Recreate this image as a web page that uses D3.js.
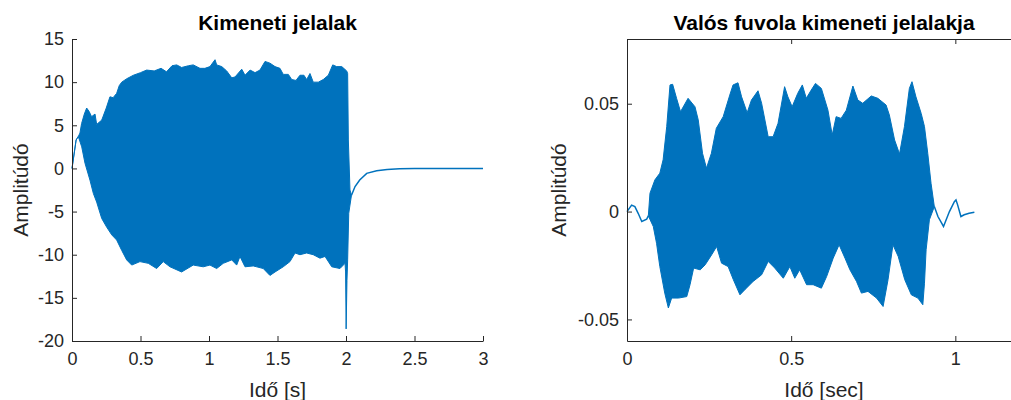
<!DOCTYPE html>
<html>
<head>
<meta charset="utf-8">
<script src="https://cdn.jsdelivr.net/npm/d3@7"></script>
<style>
  body { margin: 0; background: #fff; }
  text { font-family: "Liberation Sans", Arial, sans-serif; }
</style>
</head>
<body>
<div id="chart"></div>
<script>
const W = 1011, H = 400;
const blue = "#0072BD", axisCol = "#262626";

// left panel: simulated output, envelope of the dense signal
const leftUpT = [0,0.03,0.046,0.058,0.07,0.09,0.107,0.125,0.143,0.168,0.18,0.217,0.25,0.277,0.3,0.326,0.345,0.363,0.4,0.448,0.5,0.545,0.6,0.65,0.69,0.73,0.764,0.8,0.85,0.885,0.934,0.97,1.007,1.044,1.056,1.093,1.129,1.166,1.19,1.239,1.263,1.3,1.336,1.372,1.409,1.445,1.482,1.518,1.542,1.579,1.604,1.635,1.664,1.693,1.713,1.737,1.761,1.798,1.834,1.871,1.903,1.932,1.969,2.005,2.012,2.017,2.029,2.04];
const leftUpV = [0,3.3,3.7,4.1,5.2,6.3,7.0,6.6,6.0,6.3,5.1,5.6,7.0,8.3,8.2,8.7,9.6,10.0,10.4,10.8,11.1,11.4,11.3,11.6,11.2,11.9,12.0,11.7,11.9,12.0,11.6,11.6,11.8,12.6,12.0,11.8,11.3,10.5,10.6,11.5,10.8,11.4,11.1,11.4,12.4,12.2,11.8,11.6,10.9,10.9,10.3,10.2,10.8,10.8,10.3,11.0,10.0,10.0,10.3,10.8,12.0,11.8,11.8,11.3,11.0,3.3,-2.5,-3.1];
const leftLoT = [0,0.03,0.046,0.071,0.095,0.131,0.156,0.18,0.217,0.253,0.29,0.326,0.363,0.399,0.436,0.496,0.557,0.618,0.666,0.715,0.8,0.885,0.958,1.007,1.056,1.104,1.166,1.202,1.226,1.263,1.323,1.396,1.445,1.482,1.542,1.591,1.628,1.664,1.713,1.761,1.81,1.847,1.896,1.956,1.993,1.997,2.001,2.007,2.012,2.02,2.04];
const leftLoV = [0,3.3,3.7,2.5,0.6,-1.35,-2.9,-3.9,-5.8,-6.8,-7.7,-8.3,-9.5,-10.6,-11.2,-10.8,-11.0,-11.6,-10.8,-11.4,-12.0,-11.2,-11.4,-11.2,-11.6,-11.0,-10.6,-11.2,-10.2,-11.4,-11.3,-11.6,-12.4,-12.0,-11.4,-10.8,-9.8,-10.0,-9.8,-10.0,-10.4,-10.2,-11.4,-11.6,-11.0,-12.0,-18.6,-13.0,-10.6,-5.2,-3.1];
const leftTailT = [2.04,2.066,2.1,2.151,2.224,2.3,2.39,2.5,3.0];
const leftTailV = [-3.1,-2.1,-1.34,-0.57,-0.27,-0.12,-0.04,-0.01,0];

// right panel: real flute recording
const rightHeadT = [0,0.014,0.024,0.034,0.045,0.06,0.065];
const rightHeadV = [0,0.003,0.0023,-0.0008,-0.0046,-0.0035,-0.002];
const rightUpT = [0.065,0.07,0.085,0.1,0.11,0.121,0.131,0.139,0.151,0.163,0.186,0.207,0.217,0.23,0.242,0.257,0.272,0.293,0.313,0.323,0.338,0.349,0.366,0.379,0.399,0.41,0.43,0.445,0.46,0.48,0.49,0.503,0.52,0.534,0.546,0.561,0.574,0.592,0.612,0.625,0.637,0.652,0.668,0.688,0.703,0.718,0.744,0.764,0.789,0.799,0.815,0.83,0.845,0.86,0.868,0.88,0.896,0.906,0.916,0.926,0.936];
const rightUpV = [-0.002,0.0085,0.0147,0.0178,0.024,0.0394,0.0587,0.059,0.0525,0.0463,0.0525,0.0486,0.0425,0.027,0.0201,0.027,0.0386,0.044,0.054,0.0587,0.0597,0.0532,0.0458,0.0517,0.056,0.0502,0.0347,0.0347,0.0409,0.0579,0.0532,0.0486,0.0548,0.0587,0.0525,0.0563,0.0594,0.0571,0.047,0.0355,0.044,0.0432,0.047,0.0582,0.0517,0.0502,0.0536,0.0525,0.0494,0.0448,0.0332,0.0267,0.0394,0.0571,0.0602,0.0532,0.0455,0.0394,0.027,0.0131,0.0023];
const rightLoT = [0.065,0.08,0.09,0.1,0.115,0.126,0.136,0.157,0.182,0.192,0.203,0.223,0.238,0.258,0.273,0.288,0.308,0.324,0.344,0.359,0.384,0.41,0.43,0.45,0.476,0.496,0.511,0.526,0.547,0.567,0.592,0.608,0.628,0.646,0.664,0.679,0.699,0.714,0.734,0.76,0.78,0.795,0.81,0.826,0.846,0.866,0.886,0.901,0.906,0.911,0.921,0.936];
const rightLoV = [-0.002,-0.0069,-0.0147,-0.0255,-0.0378,-0.0447,-0.0401,-0.0401,-0.0394,-0.0339,-0.0262,-0.027,-0.0247,-0.02,-0.0162,-0.0239,-0.0255,-0.0316,-0.0386,-0.0362,-0.0324,-0.0293,-0.0231,-0.0262,-0.0309,-0.0255,-0.0309,-0.027,-0.0339,-0.0339,-0.0355,-0.0301,-0.0216,-0.0154,-0.0216,-0.027,-0.0324,-0.0378,-0.037,-0.0401,-0.044,-0.0316,-0.0154,-0.0208,-0.0316,-0.0386,-0.0401,-0.0432,-0.0332,-0.0177,-0.0038,0.0023];
const rightTailT = [0.936,0.947,0.964,0.982,0.997,1.002,1.007,1.017,1.027,1.042,1.058];
const rightTailV = [0.0023,-0.0023,-0.0069,0,0.0046,0.0054,0.0031,-0.0023,-0.0015,-0.0008,-0.0003];

const leftXTicks = [0,0.5,1,1.5,2,2.5,3];
const leftYTicks = [-20,-15,-10,-5,0,5,10,15];
const rightXTicks = [0,0.5,1];
const rightYTicks = [-0.05,0,0.05];

const zip = (t, v) => t.map((d, i) => [d, v[i]]);
// matlab style labels, plain hyphen for negatives
const fmt = d => d3.format("~g")(d).replace("−", "-");

const svg = d3.select("#chart").append("svg")
  .attr("width", W).attr("height", H)
  .style("display", "block");

function panel(o) {
  const x = d3.scaleLinear().domain(o.xDom).range([o.x0, o.x1]);
  const y = d3.scaleLinear().domain(o.yDom).range([o.y1, o.y0]);
  const g = svg.append("g");

  const line = d3.line().x(d => x(d[0])).y(d => y(d[1]));
  const poly = zip(o.upT, o.upV).concat(zip(o.loT, o.loV).reverse());
  g.append("path")
    .attr("d", line(poly) + "Z")
    .attr("fill", blue).attr("stroke", blue).attr("stroke-width", 1)
    .attr("stroke-linejoin", "round");
  o.lines.forEach(l => {
    g.append("path")
      .attr("d", line(zip(l[0], l[1])))
      .attr("fill", "none").attr("stroke", blue).attr("stroke-width", 1.5);
  });

  g.append("g").attr("transform", `translate(0,${o.y1})`)
    .call(d3.axisBottom(x).tickValues(o.xTicks).tickSizeInner(-5).tickSizeOuter(0)
      .tickPadding(11).tickFormat(fmt));
  g.append("g").attr("transform", `translate(${o.x0},0)`)
    .call(d3.axisLeft(y).tickValues(o.yTicks).tickSizeInner(-5).tickSizeOuter(0)
      .tickPadding(8).tickFormat(fmt));
  if (o.box) {
    g.append("g").attr("transform", `translate(0,${o.y0})`)
      .call(d3.axisTop(x).tickValues(o.xTicks).tickSizeInner(-5).tickSizeOuter(0).tickFormat(""));
    g.append("g").attr("transform", `translate(${o.x1},0)`)
      .call(d3.axisRight(y).tickValues(o.yTicks).tickSizeInner(-5).tickSizeOuter(0).tickFormat(""));
  }
  g.selectAll(".domain").attr("stroke", axisCol).attr("stroke-width", 1);
  g.selectAll(".tick line").attr("stroke", axisCol);
  g.selectAll(".tick text").attr("fill", axisCol)
    .style("font-family", "'Liberation Sans', Arial, sans-serif").style("font-size", "18px");

  g.append("text")
    .attr("x", (o.x0 + o.x1) / 2).attr("y", 30)
    .attr("text-anchor", "middle")
    .style("font-size", "21px").style("font-weight", "bold").attr("fill", "#000")
    .text(o.title);
  g.append("text")
    .attr("x", (o.x0 + o.x1) / 2).attr("y", 397)
    .attr("text-anchor", "middle")
    .style("font-size", "21px").attr("fill", axisCol)
    .text(o.xLabel);
  g.append("text")
    .attr("transform", `translate(${o.yLabelX},${(o.y0 + o.y1) / 2}) rotate(-90)`)
    .attr("text-anchor", "middle")
    .style("font-size", "21px").attr("fill", axisCol)
    .text("Amplitúdó");
}

panel({
  x0: 72, x1: 483, y0: 39, y1: 341,
  xDom: [0, 3], yDom: [-20, 15],
  upT: leftUpT, upV: leftUpV, loT: leftLoT, loV: leftLoV,
  lines: [[leftTailT, leftTailV]],
  xTicks: leftXTicks, yTicks: leftYTicks,
  title: "Kimeneti jelalak", xLabel: "Idő [s]", yLabelX: 28, box: false
});

panel({
  x0: 627, x1: 1021, y0: 39, y1: 341,
  xDom: [0, 1.2], yDom: [-0.06, 0.08],
  upT: rightUpT, upV: rightUpV, loT: rightLoT, loV: rightLoV,
  lines: [[rightHeadT, rightHeadV], [rightTailT, rightTailV]],
  xTicks: rightXTicks, yTicks: rightYTicks,
  title: "Valós fuvola kimeneti jelalakja", xLabel: "Idő [sec]", yLabelX: 566, box: true
});
</script>
</body>
</html>
